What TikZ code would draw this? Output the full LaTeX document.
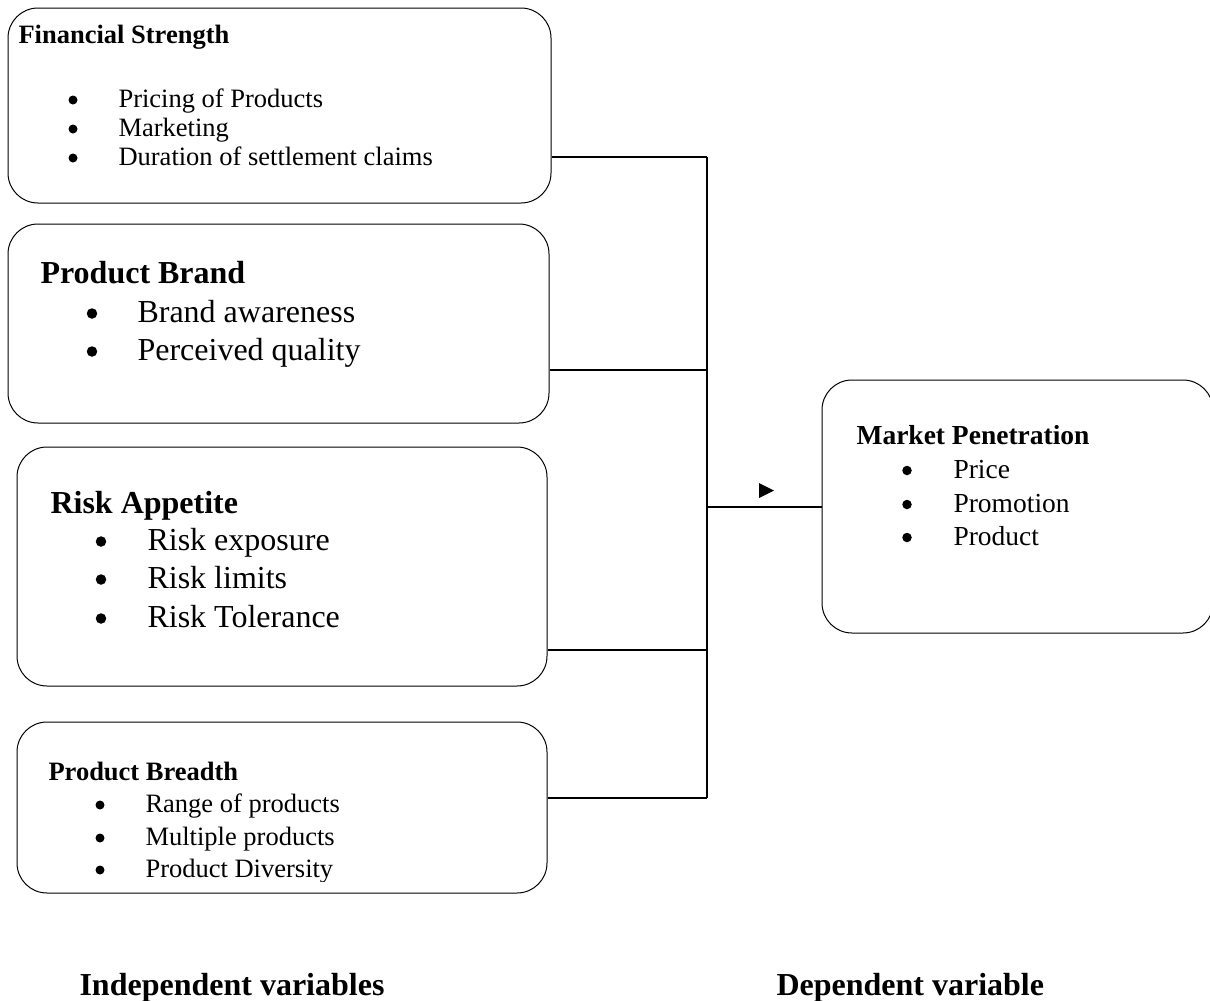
\documentclass[tikz,border=0pt]{standalone}
\usepackage{fontspec}
\setmainfont{Liberation Serif}
\usetikzlibrary{positioning}

\tikzset{
  panel/.style={draw, line width=1pt, rounded corners=30pt, inner sep=0pt},
  wire/.style={line width=2pt},
  head/.style={anchor=base west, font=\bfseries\fontsize{#1}{#1}\selectfont},
  item/.style={anchor=base west, font=\fontsize{#1}{#1}\selectfont},
  dot/.style={circle, fill, inner sep=0pt, minimum size=#1},
}

\begin{document}
\begin{tikzpicture}[x=1pt, y=-1pt]
    \useasboundingbox (0,0) rectangle (1210,1001);

    % Boxes
    \node[panel, minimum width=543pt, minimum height=195pt] (fin) at (279.5,105.5) {};
    \node[panel, minimum width=541pt, minimum height=199pt] (brand) at (278.5,323.5) {};
    \node[panel, minimum width=530pt, minimum height=239pt] (risk) at (282,566.5) {};
    \node[panel, minimum width=530pt, minimum height=171pt] (breadth) at (282,807.5) {};
    \node[panel, minimum width=391pt, minimum height=253pt] (mkt) at (1017.5,506.5) {};

    % Financial Strength
    \node[head=26.5] (fin-t) at (15,43) {Financial Strength};
    \foreach \txt/\y [count=\i] in {Pricing of Products/107, Marketing/136, Duration of settlement claims/165} {
        \node[dot=9pt] (fin-d\i) at (73,\y-7) {};
        \node[item=26.5] (fin-i\i) at (115,\y) {\txt};
    }

    % Product Brand
    \node[head=32] (brand-t) at (37,283) {Product Brand};
    \foreach \txt/\y [count=\i] in {Brand awareness/322, Perceived quality/360} {
        \node[dot=10.5pt] (brand-d\i) at (92,\y-8.5) {};
        \node[item=32] (brand-i\i) at (134,\y) {\txt};
    }

    % Risk Appetite
    \node[head=32] (risk-t) at (47,513) {Risk Appetite};
    \foreach \txt/\y [count=\i] in {Risk exposure/550, Risk limits/588, Risk Tolerance/627} {
        \node[dot=10.5pt] (risk-d\i) at (101,\y-8.5) {};
        \node[item=32] (risk-i\i) at (144,\y) {\txt};
    }

    % Product Breadth (last line clipped at the box margin)
    \node[head=26.5] (breadth-t) at (45,780) {Product Breadth};
    \begin{scope}
        \clip (17,722) rectangle (547,881);
        \foreach \txt/\y [count=\i] in {Range of products/812, Multiple products/845, Product Diversity/877} {
            \node[dot=9pt] (breadth-d\i) at (100,\y-7) {};
            \node[item=26.5] (breadth-i\i) at (142,\y) {\txt};
        }
    \end{scope}

    % Market Penetration
    \node[head=27.5] (mkt-t) at (853,444) {Market Penetration};
    \foreach \txt/\y [count=\i] in {Price/478, Promotion/512, Product/545} {
        \node[dot=9.5pt] (mkt-d\i) at (907,\y-7.5) {};
        \node[item=27.5] (mkt-i\i) at (950,\y) {\txt};
    }

    % Connectors
    \coordinate (j1) at (707,157);
    \coordinate (j2) at (707,370);
    \coordinate (j3) at (707,650);
    \coordinate (j4) at (707,798);
    \coordinate (jm) at (707,507);
    \draw[wire] (fin.east |- j1) -- (j1);
    \draw[wire] (brand.east |- j2) -- (j2);
    \draw[wire] (risk.east |- j3) -- (j3);
    \draw[wire] (breadth.east |- j4) -- (j4);
    \draw[wire] (j1) -- (j4);
    \draw[wire] (jm) -- (mkt.west |- jm);
    \fill (759,483) -- (774,490.5) -- (759,498) -- cycle;

    % Captions
    \node[head=32] (indep) at (76,995) {Independent variables};
    \node[head=32] (dep) at (773,995) {Dependent variable};
\end{tikzpicture}
\end{document}
